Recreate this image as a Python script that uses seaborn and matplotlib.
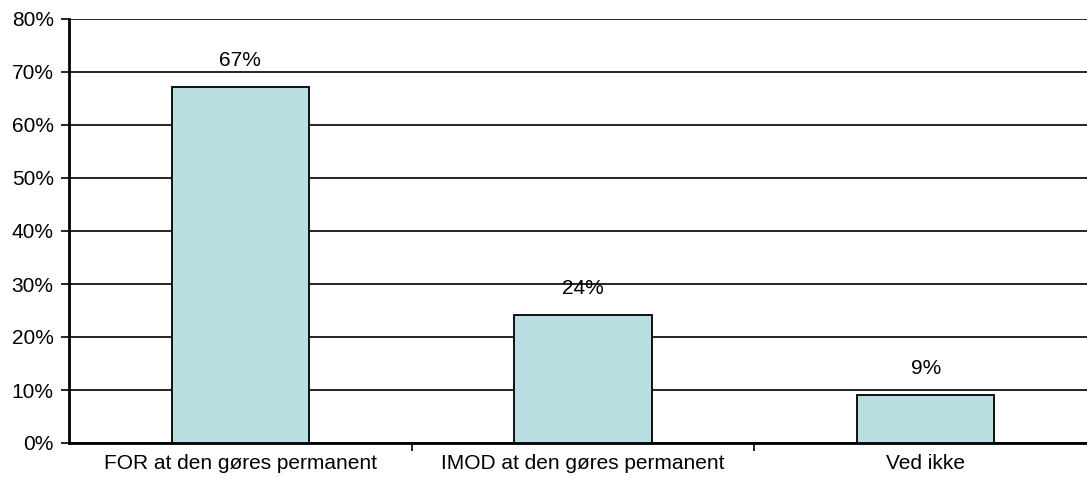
import matplotlib
matplotlib.use("Agg")
import matplotlib.pyplot as plt
import seaborn as sns
import pandas as pd
from matplotlib.ticker import FixedLocator, FuncFormatter

categories = ["FOR at den gøres permanent", "IMOD at den gøres permanent", "Ved ikke"]
values = [67.2, 24.2, 9.1]
value_labels = ["67%", "24%", "9%"]
y_ticks = [0, 10, 20, 30, 40, 50, 60, 70, 80]

BAR_COLOR = "#B9DFE3"

sns.set_style("white")
plt.rcParams["font.family"] = ["Liberation Sans", "DejaVu Sans"]
plt.rcParams["text.color"] = "black"
plt.rcParams["xtick.color"] = "black"
plt.rcParams["ytick.color"] = "black"

df = pd.DataFrame({"kategori": categories, "andel": values})

fig = plt.figure(figsize=(10.87, 4.87), dpi=100)
ax = fig.add_axes([69 / 1087, 1 - 443 / 487, (1097 - 69) / 1087, (443 - 19) / 487])

sns.barplot(data=df, x="kategori", y="andel", color=BAR_COLOR, width=0.4,
            edgecolor="black", linewidth=1.3, saturation=1, ax=ax, zorder=3)

ax.set_ylim(0, 80)
ax.set_xlim(-0.5, 2.5)
ax.yaxis.set_major_locator(FixedLocator(y_ticks))
ax.yaxis.set_major_formatter(FuncFormatter(lambda v, p: f"{v:.0f}%"))
ax.grid(axis="y", color="black", linewidth=1.2, zorder=0)
ax.set_axisbelow(True)

# category ticks sit between the groups
ax.set_xticks([0.5, 1.5], minor=True)
ax.tick_params(axis="x", which="minor", bottom=True, length=6, width=1.2, color="black", direction="out")
ax.tick_params(axis="x", which="major", bottom=False, length=0, pad=8, labelsize=15)
ax.tick_params(axis="y", length=6, width=1.2, color="black", direction="out", labelsize=15, pad=5, left=True)

for side in ["top", "right"]:
    ax.spines[side].set_visible(False)
ax.spines["left"].set_linewidth(2)
ax.spines["bottom"].set_linewidth(2)
ax.spines["left"].set_color("black")
ax.spines["bottom"].set_color("black")

for i, (v, lab) in enumerate(zip(values, value_labels)):
    ax.annotate(lab, (i, v), xytext=(0, 19), textcoords="offset points",
                ha="center", va="center", fontsize=15)

ax.set_xlabel("")
ax.set_ylabel("")

fig.savefig("out.png", dpi=100)
